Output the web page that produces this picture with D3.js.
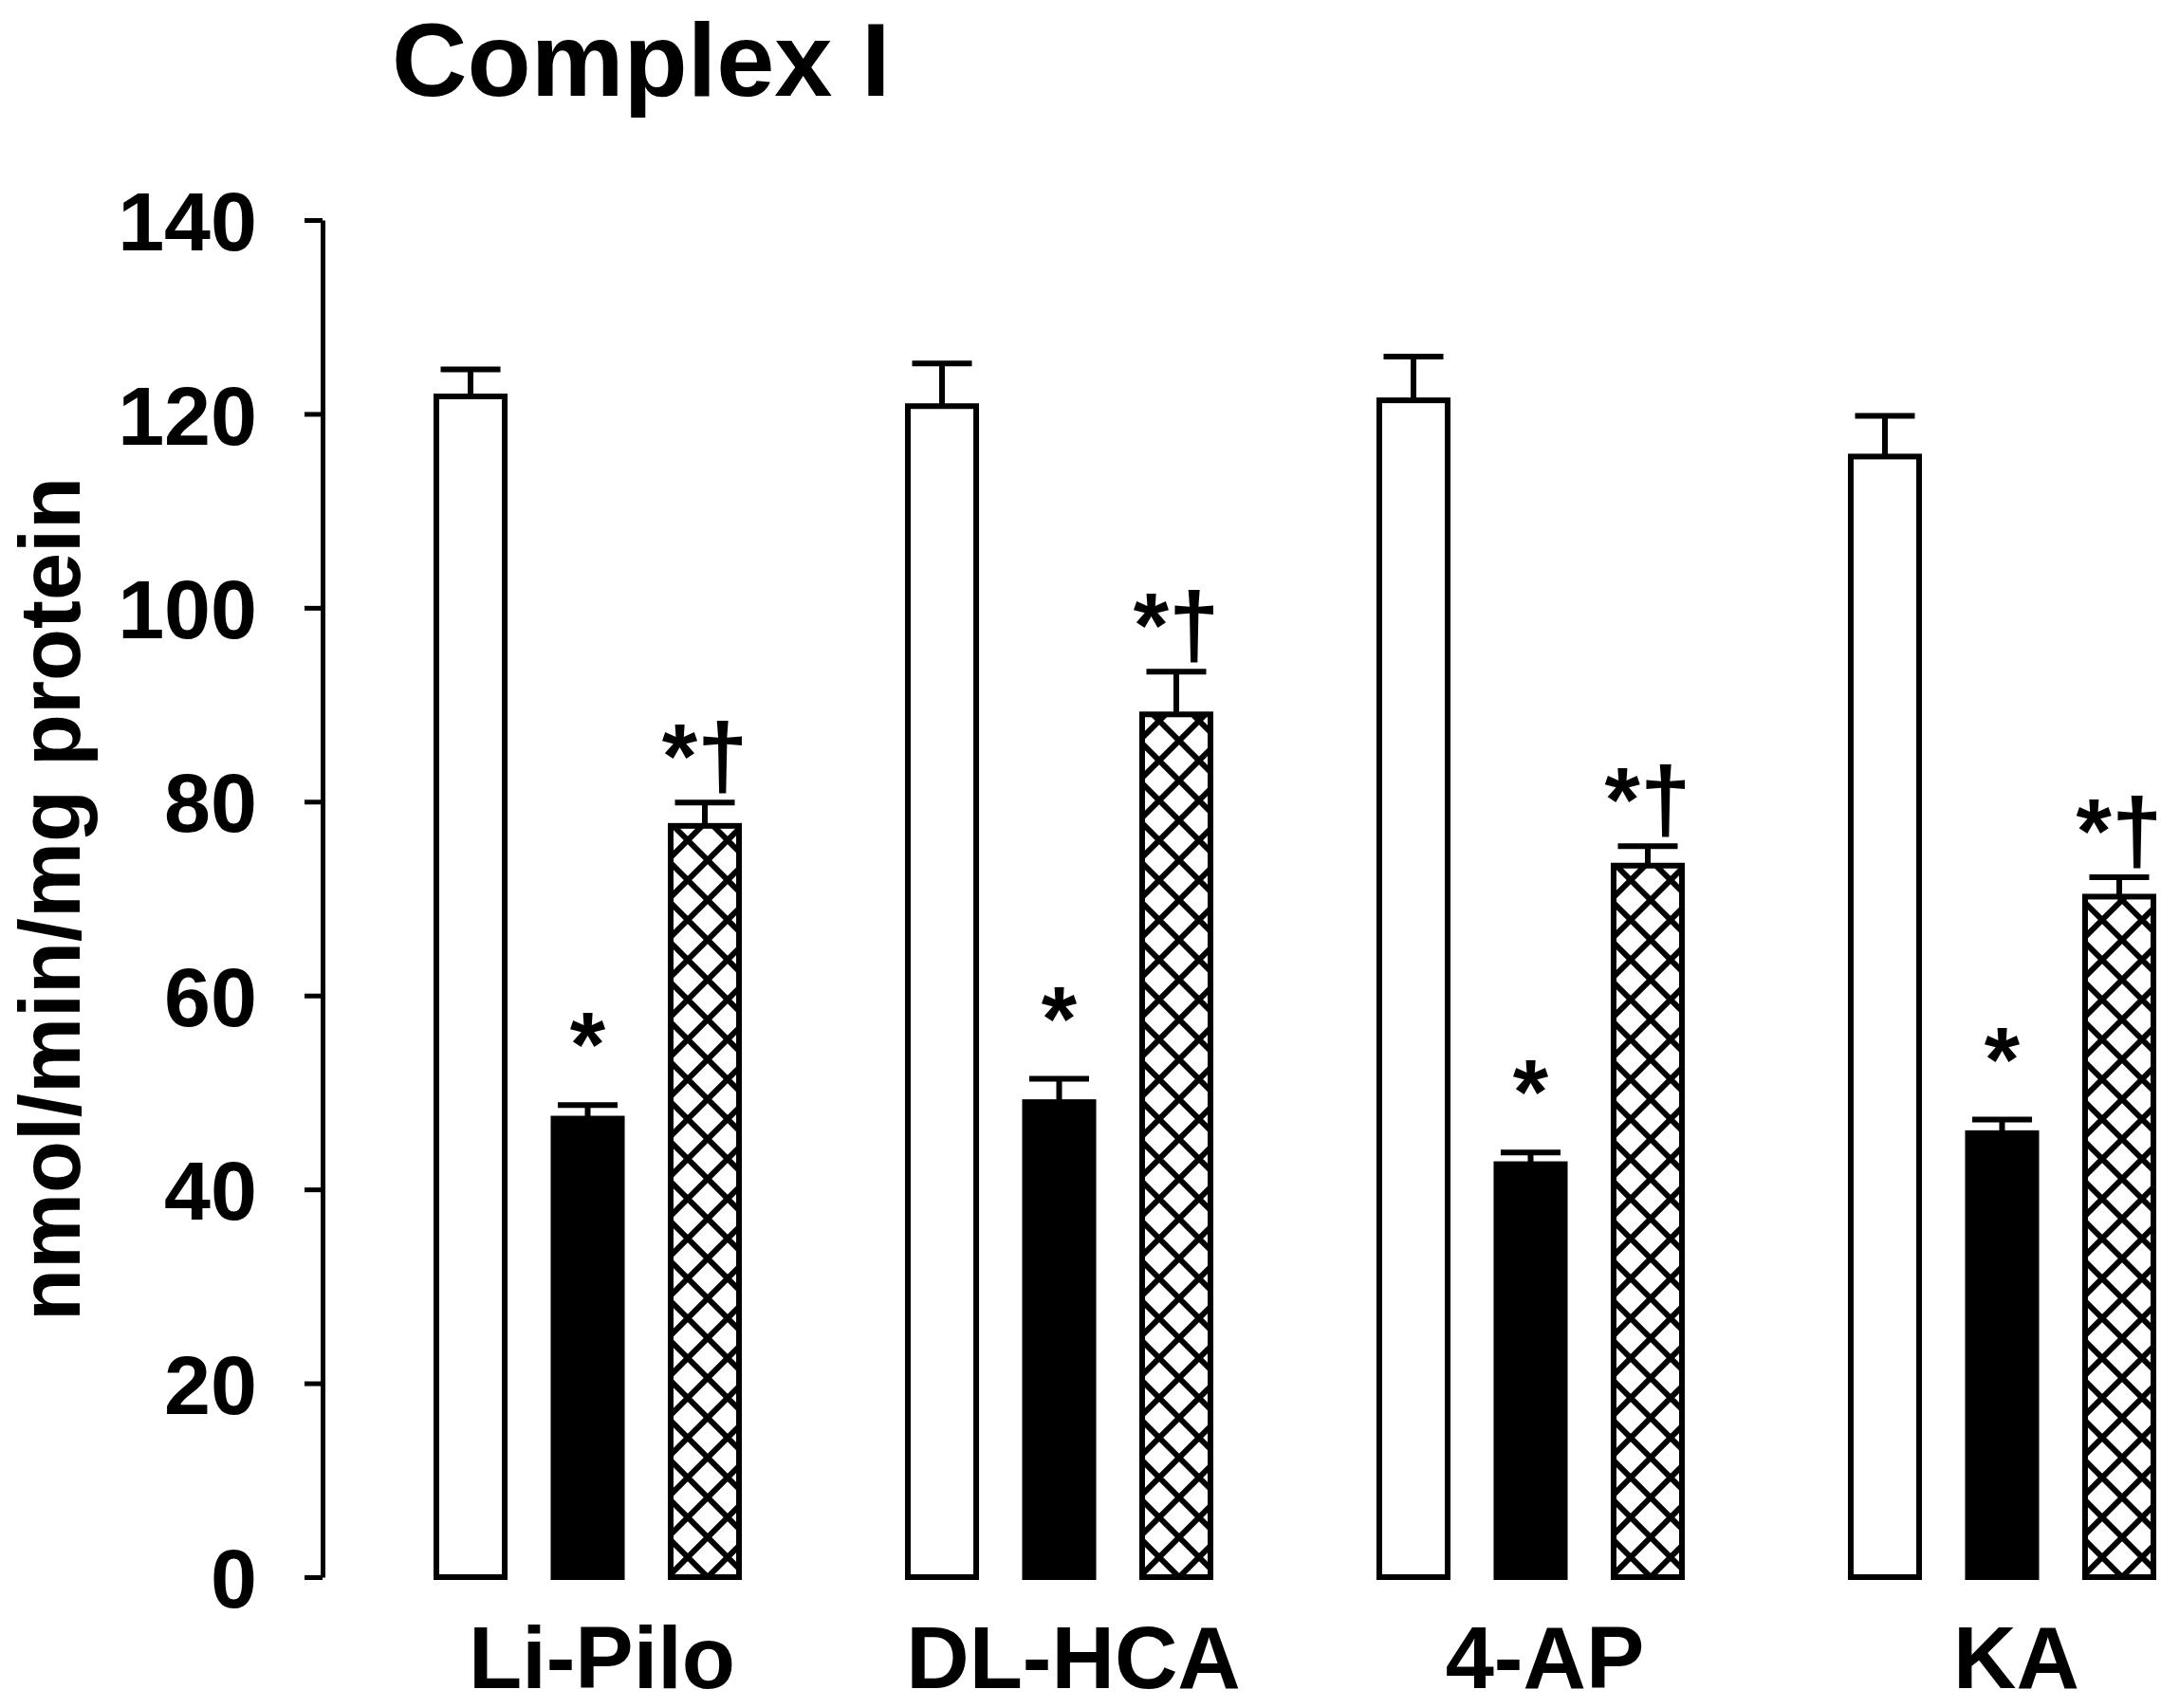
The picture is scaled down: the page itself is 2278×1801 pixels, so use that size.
<!DOCTYPE html>
<html lang="en">
<head>
  <meta charset="UTF-8">
  <title>Complex I</title>
  <style>
    body {
        margin: 0;
        background-color: white;
    }
    text {
        font-family: "Liberation Sans", Arial, sans-serif;
        font-weight: bold;
        fill: black;
    }
    .axis path, .axis line {
        stroke: black;
        stroke-width: 5px;
    }
    .axis text {
        font-size: 88px;
    }
  </style>
  <script src="https://cdn.jsdelivr.net/npm/d3@7"></script>
</head>
<body>
    <div class="main"></div>

    <script>

    var categories = ["Li-Pilo", "DL-HCA", "4-AP", "KA"];
    var series = ["control", "seizure", "treated"];

    // means and SEM (nmol/min/mg protein)
    var controlMean = [121.8, 120.8, 121.4, 115.6];
    var controlErr  = [2.8, 4.4, 4.5, 4.2];
    var seizureMean = [47.3, 49.0, 42.6, 45.8];
    var seizureErr  = [1.4, 2.4, 1.2, 1.4];
    var treatedMean = [77.5, 89.0, 73.4, 70.2];
    var treatedErr  = [2.4, 4.4, 2.0, 2.0];

    var seizureMarks = ["*", "*", "*", "*"];
    var treatedMarks = ["*\u2020", "*\u2020", "*\u2020", "*\u2020"];

    var yTicks = [0, 20, 40, 60, 80, 100, 120, 140];

    var width = 2278,
        height = 1801;

    var margin = {top: 232, left: 340, bottom: 138};

    var svg = d3.select(".main").append("svg")
        .attr("width", width)
        .attr("height", height);

    svg.append("rect")
        .attr("width", width)
        .attr("height", height)
        .attr("fill", "white");

    // cross hatch fill
    var hatch = svg.append("defs").append("pattern")
        .attr("id", "hatch")
        .attr("patternUnits", "userSpaceOnUse")
        .attr("width", 42)
        .attr("height", 42);
    hatch.append("rect")
        .attr("width", 42)
        .attr("height", 42)
        .attr("fill", "white");
    hatch.append("path")
        .attr("d", "M-10.5,10.5L10.5,-10.5M0,42L42,0M31.5,52.5L52.5,31.5" +
                   "M-10.5,31.5L10.5,52.5M0,0L42,42M31.5,-10.5L52.5,10.5")
        .attr("stroke", "black")
        .attr("stroke-width", 6);

    var y = d3.scaleLinear()
        .domain([0, 140])
        .range([height - margin.bottom, margin.top]);

    var x0 = d3.scaleBand()
        .domain(categories)
        .range([457, 2273])
        .paddingInner(0.346)
        .paddingOuter(0);

    var x1 = d3.scaleBand()
        .domain(series)
        .range([0, x0.bandwidth()])
        .paddingInner(0.368);

    var rows = categories.map(function(c, i) {
        return [
            {cat: c, key: "control", mean: controlMean[i], err: controlErr[i], mark: ""},
            {cat: c, key: "seizure", mean: seizureMean[i], err: seizureErr[i], mark: seizureMarks[i]},
            {cat: c, key: "treated", mean: treatedMean[i], err: treatedErr[i], mark: treatedMarks[i]}
        ];
    });

    var fills = {control: "white", seizure: "black", treated: "url(#hatch)"};

    // y axis
    svg.append("g")
        .attr("class", "axis")
        .attr("transform", "translate(" + margin.left + ",0)")
        .call(d3.axisLeft(y)
            .tickValues(yTicks)
            .tickSize(19)
            .tickSizeOuter(0)
            .tickPadding(50))
        .call(function(g) { g.selectAll("text").attr("dy", "0.36em"); });

    var groups = svg.selectAll(".group")
        .data(rows)
    .enter().append("g")
        .attr("class", "group")
        .attr("transform", function(d, i) { return "translate(" + x0(categories[i]) + ",0)"; });

    var bars = groups.selectAll(".bar")
        .data(function(d) { return d; })
    .enter().append("g")
        .attr("class", "bar")
        .attr("transform", function(d) { return "translate(" + x1(d.key) + "," + y(0) + ")"; });

    bars.append("rect")
        .attr("x", 3)
        .attr("y", function(d) { return y(d.mean) - y(0); })
        .attr("width", x1.bandwidth() - 6)
        .attr("height", function(d) { return y(0) - y(d.mean); })
        .attr("fill", function(d) { return fills[d.key]; })
        .attr("stroke", "black")
        .attr("stroke-width", 6);

    // error bars, upper side only
    var cap = 63;
    bars.append("path")
        .attr("d", function(d) {
            var cx = x1.bandwidth() / 2,
                top = y(d.mean + d.err) - y(0),
                base = y(d.mean) - y(0);
            return "M" + cx + "," + base + "V" + top +
                   "M" + (cx - cap / 2) + "," + top + "H" + (cx + cap / 2);
        })
        .attr("fill", "none")
        .attr("stroke", "black")
        .attr("stroke-width", 6);

    // significance marks
    bars.filter(function(d) { return d.mark; })
        .append("text")
        .attr("x", x1.bandwidth() / 2)
        .attr("y", function(d) {
            var top = y(d.mean + d.err) - y(0);
            return d.mark.length > 1 ? top - 16 : top - 31;
        })
        .attr("text-anchor", "middle")
        .style("font-size", "96px")
        .text(function(d) { return d.mark; });

    // category labels
    svg.selectAll(".cat")
        .data(categories)
    .enter().append("text")
        .attr("class", "cat")
        .attr("x", function(d) { return x0(d) + x1("seizure") + x1.bandwidth() / 2 + 15; })
        .attr("y", 1780)
        .attr("text-anchor", "middle")
        .style("font-size", "92px")
        .text(function(d) { return d; });

    // title
    svg.append("text")
        .attr("x", 413)
        .attr("y", 101)
        .style("font-size", "110px")
        .text("Complex I");

    // y axis label
    svg.append("text")
        .attr("transform", "translate(84,948) rotate(-90)")
        .attr("text-anchor", "middle")
        .style("font-size", "90px")
        .text("nmol/min/mg protein");

    </script>
</body>
</html>
